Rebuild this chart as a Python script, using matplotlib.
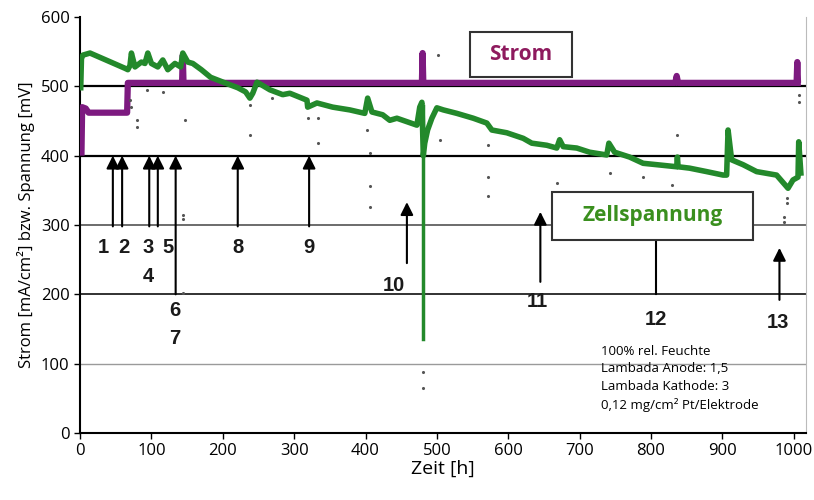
import matplotlib.pyplot as plt
from matplotlib.patches import Rectangle

plt.rcParams['font.family'] = ['Open Sans', 'DejaVu Sans']

# cell voltage trace (Zellspannung)
volt_t = [1, 2, 4, 14, 43, 63, 67, 70, 72, 77, 86, 91, 95, 100, 109, 116, 123, 133,
          141, 144, 151, 158, 170, 183, 203, 221, 232, 238, 242, 248, 266, 284, 294,
          318, 319, 332, 354, 378, 399, 403, 409, 424, 434, 444, 458, 472, 476, 479,
          481, 483, 487, 493, 500, 509, 528, 551, 570, 577, 598, 621, 633, 654,
          668, 672, 677, 696, 714, 738, 741, 749, 770, 789, 808, 836, 837, 838, 854,
          878, 901, 906, 908, 913, 929, 948, 976, 992, 999, 1006, 1007, 1010]
volt_v = [498, 540, 545, 548, 535, 526, 524, 530, 548, 528, 535, 533, 548, 533, 528,
          538, 524, 533, 528, 548, 535, 533, 524, 513, 505, 498, 492, 483, 490, 506,
          495, 488, 490, 480, 470, 476, 470, 466, 461, 483, 463, 459, 451, 454, 449,
          444, 470, 477, 400, 418, 437, 454, 469, 466, 461, 454, 447, 437, 433,
          425, 418, 415, 411, 423, 413, 411, 405, 401, 418, 405, 398, 389, 387, 384,
          398, 384, 382, 377, 372, 372, 437, 394, 387, 377, 372, 353, 365, 369, 420,
          375]

# voltage breakdown at 480 h
dip_t = [480, 480]
dip_v = [472, 135]

# current density trace (Strom)
strom_t = [2, 3, 8, 12, 66, 67, 143, 144, 145, 479, 480, 481, 834, 836, 838, 1004, 1005, 1006, 1010]
strom_v = [400, 470, 468, 462, 462, 505, 505, 545, 505, 505, 548, 505, 505, 515, 505, 505, 535, 505, 505]

# loose measurement points
dots_t = [70, 71, 80, 80, 94, 116, 147, 144, 144, 144, 238, 238, 269, 319, 333, 333,
          402, 406, 406, 406, 480, 480, 501, 504, 571, 571, 571, 668, 742, 789, 830,
          837, 990, 990, 987, 987, 1007, 1007]
dots_v = [480, 470, 451, 441, 495, 492, 451, 315, 308, 202, 473, 430, 483, 454, 454,
          418, 437, 404, 356, 326, 88, 65, 545, 423, 415, 369, 342, 361, 375, 369, 358,
          430, 339, 332, 311, 304, 487, 477]

# event arrows and their numbers
arrow_t = [46, 59, 97, 109, 134, 221, 321]
labels = ["1", "2", "3", "4", "5", "6", "7", "8", "9", "10", "11", "12", "13"]
label_t = [32, 61, 95, 95, 123, 133, 133, 221, 321, 440, 641, 807, 978]
label_v = [267, 267, 267, 225, 267, 177, 137, 267, 267, 213, 189, 163, 160]

info = "100% rel. Feuchte\nLambada Anode: 1,5\nLambada Kathode: 3\n0,12 mg/cm² Pt/Elektrode"

green = "#23892b"
purple = "#7d1a80"

fig = plt.figure(figsize=(8.14, 5.0), dpi=100)
ax = fig.add_axes([0.0983, 0.134, 0.8917, 0.832])

# horizontal grid lines
ax.axhline(100, color="#9a9a9a", lw=1.0, zorder=1)
ax.axhline(200, color="#222222", lw=1.3, zorder=1)
ax.axhline(300, color="#444444", lw=1.1, zorder=1)
ax.axhline(400, color="black", lw=1.6, zorder=1)
ax.axhline(500, color="black", lw=1.6, zorder=1)

ax.plot(strom_t, strom_v, color=purple, lw=4.5, zorder=3, solid_capstyle="butt")
ax.plot(volt_t, volt_v, color=green, lw=4, zorder=4, solid_joinstyle="round")
ax.plot(dip_t, dip_v, color=green, lw=2.5, zorder=4)
ax.scatter(dots_t, dots_v, s=5, color="#555555", zorder=5, linewidths=0)

# arrows
akw = dict(arrowstyle="-|>", color="black", lw=1.5, mutation_scale=19, shrinkA=0, shrinkB=0)
for t in arrow_t:
    bottom = 200 if t == 134 else 298
    ax.annotate("", xy=(t, 400), xytext=(t, bottom), arrowprops=akw, zorder=6)
ax.annotate("", xy=(458, 333), xytext=(458, 245), arrowprops=akw, zorder=6)
ax.annotate("", xy=(645, 319), xytext=(645, 218), arrowprops=akw, zorder=6)
ax.annotate("", xy=(980, 267), xytext=(980, 192), arrowprops=akw, zorder=6)
ax.plot([807, 807], [278, 200], color="black", lw=1.5, zorder=6)

for lab, t, v in zip(labels, label_t, label_v):
    ax.text(t, v, lab, ha="center", va="center", fontsize=14.5, fontweight="bold",
            fontfamily="Liberation Sans", color="#1a1a1a", zorder=7)

# legend boxes
ax.add_patch(Rectangle((546, 513), 144, 65, facecolor="white", edgecolor="#333333",
                       lw=1.5, zorder=8))
ax.text(618, 545.5, "Strom", color="#8e1a5e", fontsize=15, fontweight="bold",
        ha="center", va="center", zorder=9)
ax.add_patch(Rectangle((662, 278), 281, 70, facecolor="white", edgecolor="#333333",
                       lw=1.5, zorder=8))
ax.text(802, 313, "Zellspannung", color="#3a8f1e", fontsize=15, fontweight="bold",
        ha="center", va="center", zorder=9)

ax.text(730, 127, info, fontsize=9.5, ha="left", va="top", linespacing=1.45, zorder=9)

ax.set_xlim(0, 1017)
ax.set_ylim(0, 600)
ax.set_xticks(range(0, 1001, 100))
ax.set_yticks(range(0, 601, 100))
ax.tick_params(labelsize=12, length=4, width=1, direction="out")
ax.spines["top"].set_visible(False)
ax.spines["right"].set_color("#bbbbbb")
ax.spines["left"].set_linewidth(1.5)
ax.spines["bottom"].set_linewidth(1.5)
ax.set_xlabel("Zeit [h]", fontsize=14, labelpad=0)
ax.set_ylabel("Strom [mA/cm²] bzw. Spannung [mV]", fontsize=12, labelpad=4)

fig.savefig("out.png", dpi=100)
